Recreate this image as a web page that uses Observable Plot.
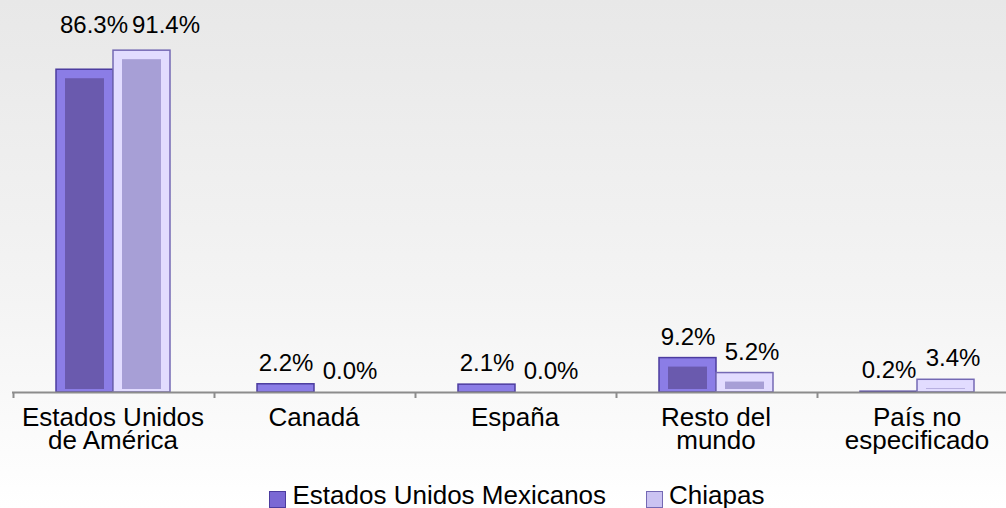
<!DOCTYPE html>
<html>
<head>
<meta charset="utf-8">
<script src="https://cdn.jsdelivr.net/npm/d3@7"></script>
<script src="https://cdn.jsdelivr.net/npm/@observablehq/plot@0.6"></script>
<style>
  html, body { margin: 0; padding: 0; }
  body {
    width: 1006px; height: 508px; overflow: hidden;
    background: linear-gradient(to bottom, #e8e8e8 0%, #f4f4f4 60%, #ffffff 100%);
    font-family: "Liberation Sans", Arial, sans-serif;
  }
  #chart svg { display: block; }
  #legend {
    height: 43px; box-sizing: border-box; padding-top: 16px;
    display: flex; justify-content: center; padding-left: 28px;
    font-size: 26px; line-height: 24px; color: #000;
  }
  .item { display: flex; align-items: center; }
  .item + .item { margin-left: 40px; }
  .sw { width: 17px; height: 17px; margin-right: 6px; position: relative; top: 5px; box-sizing: border-box; }
</style>
</head>
<body>
<div id="chart"></div>
<div id="legend"></div>
<script>
// ---- data ----
const categories = ["Estados Unidos\nde América", "Canadá", "España", "Resto del\nmundo", "País no\nespecificado"];
const series = ["Estados Unidos Mexicanos", "Chiapas"];
const valuesEUM = [86.3, 2.2, 2.1, 9.2, 0.2];
const valuesChiapas = [91.4, 0.0, 0.0, 5.2, 3.4];

// ---- styles ----
const seriesStyle = {
  "Estados Unidos Mexicanos": {border: "#4c3c9f", bevel: "#8b7de6", inner: "#6a5aae", swatch: "#7a68d4", labelDx: 0, topLabelDx: 9},
  "Chiapas": {border: "#7469b4", bevel: "#e2dcff", inner: "#a79fd6", swatch: "#cbc3f2", labelDx: 7, topLabelDx: 24}
};

const rows = [];
categories.forEach((c, i) => {
  rows.push({category: c, series: series[0], value: valuesEUM[i]});
  rows.push({category: c, series: series[1], value: valuesChiapas[i]});
});
// labels of a group whose bars are very tall are aligned at the top (as in the original)
const groupMax = new Map(categories.map((c, i) => [c, Math.max(valuesEUM[i], valuesChiapas[i])]));
const isTall = d => groupMax.get(d.category) > 50;

const W = 1006, H = 465, mL = 12, mR = -11, mT = 18, mB = 73;
const facetW = (W - mL - mR) / categories.length;
const outerPad = 0.733;
const step = facetW / (series.length + 2 * outerPad);
const firstCenter = outerPad * step + step / 2;

const marks = [];
series.forEach(s => {
  const st = seriesStyle[s];
  const data = rows.filter(d => d.series === s);
  marks.push(Plot.barY(data, {fx: "category", x: "series", y: "value", fill: st.bevel, stroke: st.border, strokeWidth: 1.5}));
  marks.push(Plot.barY(data, {fx: "category", x: "series", y: "value", fill: st.inner, insetLeft: 9, insetRight: 9, insetTop: 9, insetBottom: 3}));
});
marks.push(Plot.ruleY([0], {stroke: "#8c8c8c", strokeWidth: 2}));
marks.push(Plot.tickX([series[0]], {x: d => d, dx: -firstCenter, stroke: "#8c8c8c", strokeWidth: 2, insetTop: H - mT - mB, insetBottom: -6}));
series.forEach(s => {
  const st = seriesStyle[s];
  const normal = rows.filter(d => d.series === s && !isTall(d));
  const tall = rows.filter(d => d.series === s && isTall(d));
  marks.push(Plot.text(normal, {
    fx: "category", x: "series", y: "value",
    text: d => d.value.toFixed(1) + "%",
    dy: -21, dx: st.labelDx, lineAnchor: "middle", fontSize: 24, fill: "#000"
  }));
  marks.push(Plot.text(tall, {
    fx: "category", x: "series", y: d => groupMax.get(d.category),
    text: d => d.value.toFixed(1) + "%",
    dy: -25, dx: st.topLabelDx, lineAnchor: "middle", fontSize: 24, fill: "#000"
  }));
});
marks.push(Plot.text(categories, {
  fx: d => d, text: d => d, frameAnchor: "bottom", lineAnchor: "top",
  dy: 17, lineHeight: 0.885, fontSize: 26, fill: "#000"
}));

const chart = Plot.plot({
  width: W, height: H,
  marginLeft: mL, marginRight: mR, marginTop: mT, marginBottom: mB,
  style: {background: "transparent", fontFamily: "'Liberation Sans', Arial, sans-serif", overflow: "visible"},
  fx: {domain: categories, padding: 0, axis: null, label: null},
  x: {domain: series, paddingInner: 0, paddingOuter: outerPad, axis: null, label: null},
  y: {domain: [0, 100], axis: null, label: null},
  marks
});
document.getElementById("chart").appendChild(chart);

// ---- legend ----
const legend = document.getElementById("legend");
series.forEach(s => {
  const st = seriesStyle[s];
  const item = document.createElement("div");
  item.className = "item";
  const sw = document.createElement("span");
  sw.className = "sw";
  sw.style.background = st.swatch;
  sw.style.border = "1.5px solid " + st.border;
  const label = document.createElement("span");
  label.textContent = s;
  item.appendChild(sw);
  item.appendChild(label);
  legend.appendChild(item);
});
</script>
</body>
</html>
